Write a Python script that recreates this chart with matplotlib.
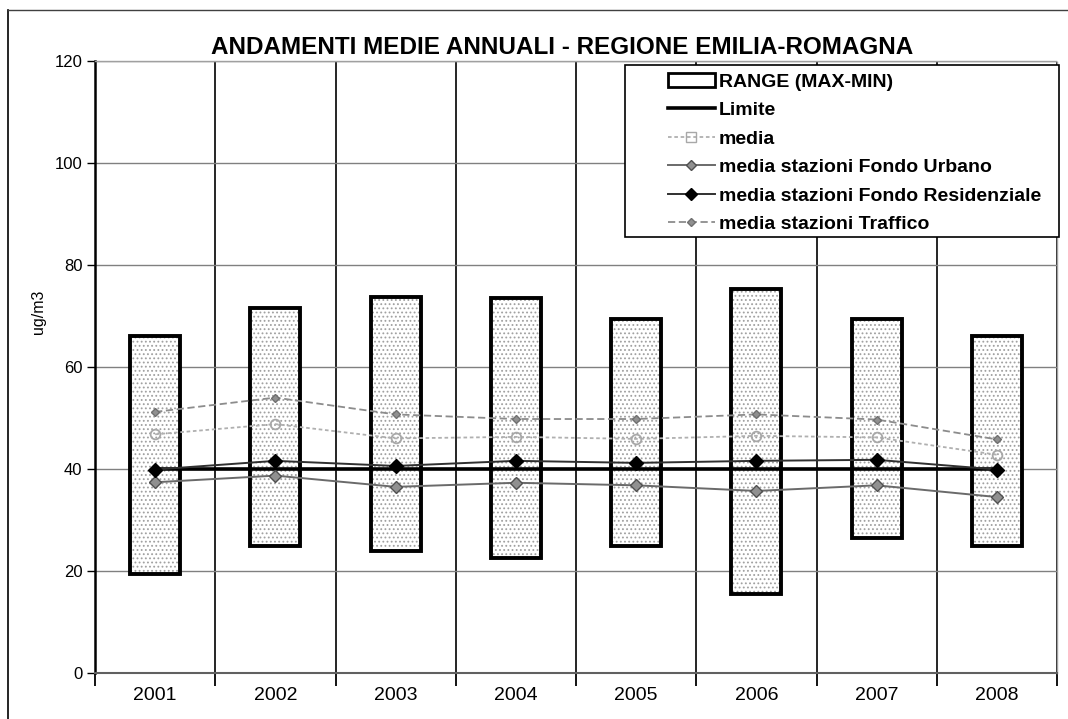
import matplotlib
matplotlib.use("Agg")
import matplotlib.pyplot as plt
from matplotlib.patches import Rectangle
from matplotlib.lines import Line2D
import numpy as np

plt.rcParams['font.family'] = ['Liberation Sans', 'DejaVu Sans']

years = ['2001', '2002', '2003', '2004', '2005', '2006', '2007', '2008']
range_max = [66.0, 71.5, 73.8, 73.5, 69.5, 75.3, 69.5, 66.0]
range_min = [19.5, 25.0, 24.0, 22.5, 25.0, 15.5, 26.5, 25.0]
limite = [40, 40, 40, 40, 40, 40, 40, 40]
media = [46.8, 48.8, 46.0, 46.3, 45.9, 46.5, 46.2, 42.8]
fondo_urbano = [37.4, 38.7, 36.5, 37.3, 36.8, 35.7, 36.8, 34.5]
fondo_residenziale = [39.9, 41.6, 40.6, 41.6, 41.2, 41.6, 41.8, 39.9]
traffico = [51.2, 54.0, 50.7, 49.8, 49.8, 50.7, 49.7, 45.8]

title = 'ANDAMENTI MEDIE ANNUALI - REGIONE EMILIA-ROMAGNA'
ylabel = 'ug/m3'

W, H = 1068, 719
fig = plt.figure(figsize=(W/100, H/100), dpi=100)
ax = fig.add_axes([95/W, 46/H, (1057-95)/W, (673-61)/H])

x = np.arange(len(years))
heights = np.array(range_max) - np.array(range_min)
plt.rcParams['hatch.linewidth'] = 0.8
plt.rcParams['hatch.color'] = '#a0a0a0'
ax.bar(x, heights, bottom=range_min, width=0.415, color='white',
       hatch='....', edgecolor='#a0a0a0', linewidth=0, zorder=2)
ax.bar(x, heights, bottom=range_min, width=0.415, fill=False,
       edgecolor='black', linewidth=2.8, zorder=3)

ax.plot(x, limite, color='black', lw=2.6, zorder=4)
ax.plot(x, media, color='#b0b0b0', lw=1.3, ls=(0, (2, 1.5)), marker='o', ms=7,
        mfc='none', mec='#a8a8a8', mew=1.3, zorder=5)
ax.plot(x, fondo_urbano, color='#6a6a6a', lw=1.4, marker='D', ms=6,
        mfc='#909090', mec='#505050', zorder=5)
ax.plot(x, fondo_residenziale, color='#303030', lw=1.4, marker='D', ms=7,
        mfc='black', mec='black', zorder=5)
ax.plot(x, traffico, color='#8c8c8c', lw=1.3, ls=(0, (4, 2)), marker='D', ms=4,
        mfc='#909090', mec='#707070', zorder=5)

ax.set_xlim(-0.5, 7.5)
ax.set_ylim(0, 120)
ax.set_yticks(range(0, 121, 20))
ax.set_xticks(np.arange(-0.5, 8, 1))
ax.set_xticklabels([])
ax.set_xticks(x, minor=True)
ax.set_xticklabels(years, minor=True)
ax.tick_params(axis='x', which='minor', length=0, labelsize=14, pad=10)
ax.tick_params(axis='x', which='major', length=9, width=1.3, color='black')
ax.tick_params(axis='y', length=6, width=1.0, labelsize=12, pad=3)

ax.grid(axis='y', color='#808080', lw=1.0, zorder=0)
ax.grid(axis='x', which='major', color='black', lw=1.2, zorder=1)

for s in ['top', 'right']:
    ax.spines[s].set_color('#a0a0a0')
    ax.spines[s].set_linewidth(1.0)
    ax.spines[s].set_linestyle((0, (2, 1)))
ax.spines['left'].set_linewidth(1.8)
ax.spines['bottom'].set_linewidth(1.5)
ax.spines['bottom'].set_color('#606060')

ax.set_ylabel(ylabel, fontsize=11.5)
ax.yaxis.set_label_coords((46-95)/(1057-95), (673-312)/(673-61))

fig.text(562/W, 1 - 48/H, title, ha='center', va='center',
         fontsize=17.5, fontweight='bold')

handles = [
    Rectangle((0, 0), 1, 1, facecolor='white', edgecolor='black', lw=2),
    Line2D([], [], color='black', lw=2.6),
    Line2D([], [], color='#b0b0b0', lw=1.3, ls=(0, (2, 1.5)), marker='s', ms=7,
           mfc='none', mec='#a8a8a8'),
    Line2D([], [], color='#6a6a6a', lw=1.4, marker='D', ms=5, mfc='#909090', mec='#505050'),
    Line2D([], [], color='#303030', lw=1.4, marker='D', ms=6, mfc='black', mec='black'),
    Line2D([], [], color='#8c8c8c', lw=1.3, ls=(0, (4, 2)), marker='D', ms=4,
           mfc='#909090', mec='#707070'),
]
labels = ['RANGE (MAX-MIN)', 'Limite', 'media', 'media stazioni Fondo Urbano',
          'media stazioni Fondo Residenziale', 'media stazioni Traffico']
leg = fig.legend(handles, labels, loc='upper left',
                 bbox_to_anchor=(668/W, 1 - 73/H), bbox_transform=fig.transFigure,
                 frameon=False, prop={'weight': 'bold', 'size': 14}, handlelength=2.4,
                 handletextpad=0.2, labelspacing=0.56, borderpad=0.0,
                 borderaxespad=0)
leg.set_zorder(10)

# legend frame
fig.add_artist(Rectangle((625/W, 1 - 237/H), (1059-625)/W, (237-65)/H,
                         transform=fig.transFigure, facecolor='white',
                         edgecolor='black', lw=1.2, zorder=9))

# outer chart border (left and top)
fig.add_artist(Line2D([8/W, 8/W], [0, 1 - 10/H], transform=fig.transFigure,
                      color='black', lw=1.2))
fig.add_artist(Line2D([8/W, 1], [1 - 10/H, 1 - 10/H], transform=fig.transFigure,
                      color='#404040', lw=1.0))

fig.savefig('out.png', dpi=100)
